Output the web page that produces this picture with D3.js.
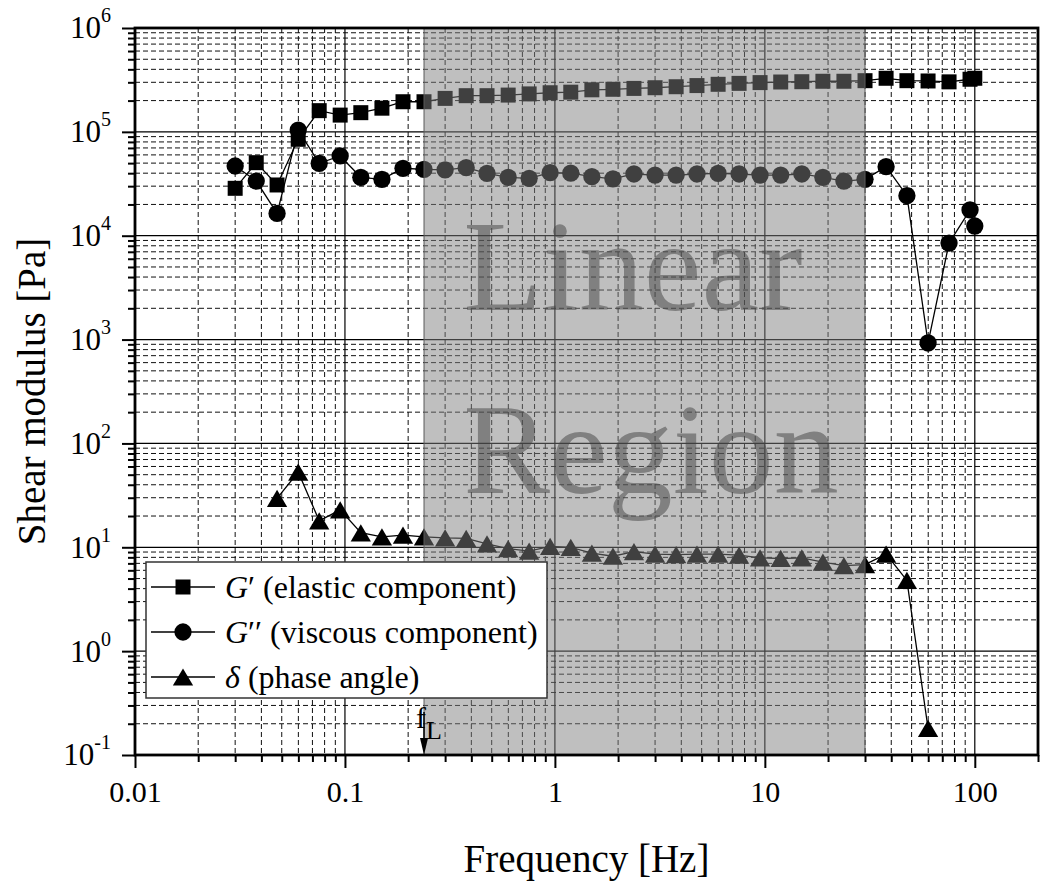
<!DOCTYPE html>
<html>
<head>
<meta charset="utf-8">
<script src="https://cdn.jsdelivr.net/npm/d3@7"></script>
<style>
  body { margin: 0; background: #fff; }
  svg { display: block; font-family: "Liberation Serif", "DejaVu Serif", serif; }
</style>
</head>
<body>
<svg id="chart" width="1046" height="887"></svg>
<script>
// Frequencies [Hz] of the sweep
const freq = [0.03, 0.0378, 0.0475, 0.0599, 0.0754, 0.0949, 0.119, 0.150, 0.189, 0.238,
    0.300, 0.378, 0.475, 0.599, 0.754, 0.949, 1.19, 1.50, 1.89, 2.38,
    3.00, 3.78, 4.75, 5.99, 7.54, 9.49, 11.9, 15.0, 18.9, 23.8,
    30.0, 37.8, 47.5, 59.9, 75.4, 94.9, 100];

// G' (elastic component) [Pa]
const gPrime = [28600, 50500, 30800, 84800, 160000, 145000, 153000, 169000, 195000, 195000,
    210000, 223000, 223000, 226000, 232000, 238000, 241000, 254000, 257000, 262000,
    266000, 272000, 279000, 287000, 293000, 298000, 302000, 304000, 307000, 307000,
    311000, 328000, 311000, 309000, 303000, 321000, 328000];

// G'' (viscous component) [Pa]
const gDouble = [46900, 33600, 16400, 104000, 49800, 58600, 36500, 34900, 44600, 43600,
    43000, 45200, 39900, 36500, 35700, 40500, 40000, 37000, 35300, 39300,
    38400, 38400, 39300, 39900, 39300, 38400, 38400, 39300, 36500, 33600,
    34900, 46200, 24300, 927, 8500, 17700, 12400];

// delta (phase angle)
const delta = [null, null, 29.6, 53, 18.0, 22.9, 13.8, 12.6, 13.1, 12.6,
    12.3, 12.2, 10.8, 9.7, 9.2, 10.2, 10.0, 8.8, 8.2, 9.1,
    8.6, 8.5, 8.6, 8.6, 8.4, 7.9, 7.8, 7.9, 7.2, 6.65,
    6.8, 8.6, 4.8, 0.18, null, null, null];

const xTickValues = [0.01, 0.1, 1, 10, 100];
const xTickLabels = ["0.01", "0.1", "1", "10", "100"];
const yTickValues = [1e-1, 1e0, 1e1, 1e2, 1e3, 1e4, 1e5, 1e6];
const yTickExponents = ["-1", "0", "1", "2", "3", "4", "5", "6"];

// linear region limits and annotation anchors (data units)
const regionStart = 0.238;
const regionEnd = 30;
const regionLabels = [
    { text: "Linear", f: 0.366, v: 1930 },
    { text: "Region", f: 0.366, v: 33.3 }
];
const fLabelTop = 0.26;

const legendItems = [
    { sym: "G", rest: "\u2032 (elastic component)", marker: "square" },
    { sym: "G", rest: "\u2032\u2032 (viscous component)", marker: "circle" },
    { sym: "\u03b4", rest: " (phase angle)", marker: "triangle" }
];

const plotLeft = 135, plotRight = 1038, plotTop = 28, plotBottom = 755;

const svg = d3.select("#chart");

const x = d3.scaleLog().domain([0.01, 200]).range([plotLeft, plotRight]);
const y = d3.scaleLog().domain([0.1, 1e6]).range([plotBottom, plotTop]);

// triangle centred on its bounding box
const triangleBox = {
    draw(context, size) {
        const w = Math.sqrt(size * 2 / 0.85);
        const h = w * 0.85;
        context.moveTo(0, -h / 2);
        context.lineTo(w / 2, h / 2);
        context.lineTo(-w / 2, h / 2);
        context.closePath();
    }
};
const markerPath = {
    square: d3.symbol().type(d3.symbolSquare).size(225)(),
    circle: d3.symbol().type(d3.symbolCircle).size(235)(),
    triangle: d3.symbol().type(triangleBox).size(175)()
};

// background label
svg.append("g")
    .selectAll("text")
    .data(regionLabels)
    .enter()
    .append("text")
    .attr("x", (d) => x(d.f))
    .attr("y", (d) => y(d.v))
    .attr("font-size", 130)
    .attr("fill", "#808080")
    .text((d) => d.text);

// grid
const xAll = x.ticks();
const yAll = y.ticks();
const isMajor = (v) => Math.abs(Math.log10(v) - Math.round(Math.log10(v))) < 1e-6;

const grid = svg.append("g").attr("class", "grid");
grid.selectAll("line.xminor")
    .data(xAll.filter((v) => !isMajor(v) && v < 200))
    .enter()
    .append("line")
    .attr("x1", (d) => x(d)).attr("x2", (d) => x(d))
    .attr("y1", plotTop).attr("y2", plotBottom)
    .attr("stroke", "#111").attr("stroke-width", 1)
    .attr("stroke-dasharray", "5,3");
grid.selectAll("line.yminor")
    .data(yAll.filter((v) => !isMajor(v)))
    .enter()
    .append("line")
    .attr("x1", plotLeft).attr("x2", plotRight)
    .attr("y1", (d) => y(d)).attr("y2", (d) => y(d))
    .attr("stroke", "#111").attr("stroke-width", 1)
    .attr("stroke-dasharray", "5,3");
grid.selectAll("line.xmajor")
    .data(xTickValues.slice(1))
    .enter()
    .append("line")
    .attr("x1", (d) => x(d)).attr("x2", (d) => x(d))
    .attr("y1", plotTop).attr("y2", plotBottom)
    .attr("stroke", "#000").attr("stroke-width", 1.2);
grid.selectAll("line.ymajor")
    .data(yTickValues.slice(1, -1))
    .enter()
    .append("line")
    .attr("x1", plotLeft).attr("x2", plotRight)
    .attr("y1", (d) => y(d)).attr("y2", (d) => y(d))
    .attr("stroke", "#000").attr("stroke-width", 1.2);

// series
const series = [
    { values: gPrime, marker: "square" },
    { values: gDouble, marker: "circle" },
    { values: delta, marker: "triangle" }
].map((s) => ({
    marker: s.marker,
    points: freq.map((f, i) => ({ f: f, v: s.values[i] })).filter((p) => p.v != null)
}));

const line = d3.line().x((d) => x(d.f)).y((d) => y(d.v));

const plot = svg.append("g").attr("class", "series");
series.forEach((s) => {
    plot.append("path")
        .attr("d", line(s.points))
        .attr("fill", "none")
        .attr("stroke", "#000")
        .attr("stroke-width", 1.3);
    plot.append("g")
        .selectAll("path")
        .data(s.points)
        .enter()
        .append("path")
        .attr("d", markerPath[s.marker])
        .attr("transform", (d) => `translate(${x(d.f)},${y(d.v)})`)
        .attr("fill", "#000");
});

// shaded linear region
svg.append("rect")
    .attr("x", x(regionStart))
    .attr("y", plotTop)
    .attr("width", x(regionEnd) - x(regionStart))
    .attr("height", plotBottom - plotTop)
    .attr("fill", "#808080")
    .attr("fill-opacity", 0.5)
    .attr("stroke", "#5a5a5a")
    .attr("stroke-width", 1);

// axes
const xMinor = svg.append("g")
    .attr("transform", `translate(0,${plotBottom})`)
    .call(d3.axisBottom(x).tickValues(xAll.filter((v) => !isMajor(v))).tickSize(7).tickFormat(""));
const xMajor = svg.append("g")
    .attr("transform", `translate(0,${plotBottom})`)
    .call(d3.axisBottom(x).tickValues(xTickValues).tickSize(13).tickPadding(13)
        .tickFormat((d, i) => xTickLabels[i]));
const yMinor = svg.append("g")
    .attr("transform", `translate(${plotLeft},0)`)
    .call(d3.axisLeft(y).tickValues(yAll.filter((v) => !isMajor(v))).tickSize(7).tickFormat(""));
const yMajor = svg.append("g")
    .attr("transform", `translate(${plotLeft},0)`)
    .call(d3.axisLeft(y).tickValues(yTickValues).tickSize(13).tickPadding(11).tickFormat(""));

[xMinor, xMajor, yMinor, yMajor].forEach((g) => {
    g.select(".domain").remove();
    g.selectAll(".tick line").attr("stroke", "#000").attr("stroke-width", 2);
});
xMajor.selectAll(".tick text")
    .attr("font-family", "Liberation Serif")
    .attr("font-size", 30)
    .attr("fill", "#000");

yMajor.selectAll(".tick text")
    .attr("font-family", "Liberation Serif")
    .attr("font-size", 31)
    .attr("fill", "#000")
    .each(function (d, i) {
        const t = d3.select(this);
        t.text(null);
        t.append("tspan").text("10");
        t.append("tspan")
            .attr("font-size", 20)
            .attr("dy", "-0.8em")
            .text(yTickExponents[i]);
    });

// frame
svg.append("rect")
    .attr("x", plotLeft).attr("y", plotTop)
    .attr("width", plotRight - plotLeft).attr("height", plotBottom - plotTop)
    .attr("fill", "none")
    .attr("stroke", "#000")
    .attr("stroke-width", 2.8);

// axis titles
svg.append("text")
    .attr("x", (plotLeft + plotRight) / 2)
    .attr("y", 872)
    .attr("text-anchor", "middle")
    .attr("font-size", 39)
    .text("Frequency [Hz]");

svg.append("text")
    .attr("transform", `translate(45,${(plotTop + plotBottom) / 2}) rotate(-90)`)
    .attr("text-anchor", "middle")
    .attr("font-size", 39)
    .text("Shear modulus [Pa]");

// legend
const legend = svg.append("g").attr("transform", "translate(146,562)");
legend.append("rect")
    .attr("width", 401).attr("height", 136)
    .attr("fill", "#fff")
    .attr("stroke", "#333")
    .attr("stroke-width", 1.5);
const rows = legend.selectAll("g.row")
    .data(legendItems)
    .enter()
    .append("g")
    .attr("transform", (d, i) => `translate(0,${25 + i * 45})`);
rows.append("line")
    .attr("x1", 5).attr("x2", 69)
    .attr("stroke", "#000").attr("stroke-width", 1.3);
rows.append("path")
    .attr("d", (d) => markerPath[d.marker])
    .attr("transform", "translate(37,0)")
    .attr("fill", "#000");
const rowText = rows.append("text")
    .attr("x", 79)
    .attr("y", 11)
    .attr("font-size", 32);
rowText.append("tspan").attr("font-style", "italic").text((d) => d.sym);
rowText.append("tspan").text((d) => d.rest);

// f_L marker
const fx = x(regionStart);
svg.append("line")
    .attr("x1", fx).attr("x2", fx)
    .attr("y1", y(fLabelTop)).attr("y2", plotBottom - 14)
    .attr("stroke", "#000").attr("stroke-width", 1.5);
svg.append("path")
    .attr("d", `M${fx - 4},${plotBottom - 17} L${fx + 4},${plotBottom - 17} L${fx},${plotBottom} Z`)
    .attr("fill", "#000");
const fText = svg.append("text")
    .attr("x", fx - 8)
    .attr("y", y(fLabelTop) + 16)
    .attr("font-size", 30);
fText.append("tspan").text("f");
fText.append("tspan").attr("font-size", 26).attr("dy", 11).text("L");
</script>
</body>
</html>
